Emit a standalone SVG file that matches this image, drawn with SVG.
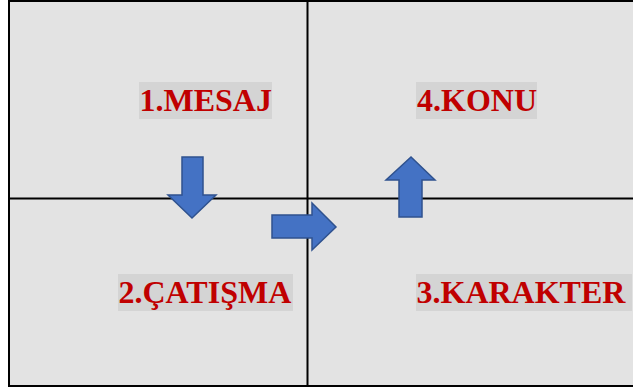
<svg xmlns="http://www.w3.org/2000/svg" width="633" height="387" viewBox="0 0 633 387">
  <style>
    .grid { stroke: #000; stroke-width: 2; fill: none; }
    .hl { fill: #d4d4d4; }
    .lbl { font-family: "Liberation Serif", "Times New Roman", serif; font-weight: bold; font-size: 32px; fill: #c00000; }
    .arrow { fill: #4472c4; stroke: #2f528f; stroke-width: 1.5; stroke-linejoin: miter; }
  </style>
  <rect x="0" y="0" width="633" height="387" fill="#fff"/>
  <rect x="9" y="1" width="624" height="385" fill="#e3e3e3"/>

  <g id="grid">
    <line class="grid" x1="9" y1="0" x2="9" y2="387"/>
    <line class="grid" x1="8" y1="1" x2="633" y2="1"/>
    <line class="grid" x1="8" y1="386" x2="633" y2="386"/>
    <line class="grid" x1="307.5" y1="1" x2="307.5" y2="386"/>
    <line class="grid" x1="9" y1="198.5" x2="633" y2="198.5"/>
  </g>

  <g id="node-mesaj">
    <rect class="hl" x="139" y="82" width="133" height="37"/>
    <text class="lbl" x="139.5" y="111">1.MESAJ</text>
  </g>
  <g id="node-konu">
    <rect class="hl" x="416" y="82" width="121" height="37"/>
    <text class="lbl" x="417" y="111">4.KONU</text>
  </g>
  <g id="node-catisma">
    <rect class="hl" x="118" y="274" width="175" height="37"/>
    <text class="lbl" x="118.5" y="303">2.ÇATIŞMA</text>
  </g>
  <g id="node-karakter">
    <rect class="hl" x="416" y="274" width="216" height="37"/>
    <text class="lbl" x="416.5" y="303">3.KARAKTER</text>
  </g>

  <g id="connectors">
    <!-- down: mesaj to catisma -->
    <polygon class="arrow" points="182,157 203,157 203,195 216,195 192,218 168,195 182,195"/>
    <!-- right: catisma to karakter -->
    <polygon class="arrow" points="272,215 312,215 312,203 336,227 312,250 312,238 272,238"/>
    <!-- up: karakter to konu -->
    <polygon class="arrow" points="399,217 399,180 386,180 411,157 435,180 422,180 422,217"/>
  </g>
</svg>
